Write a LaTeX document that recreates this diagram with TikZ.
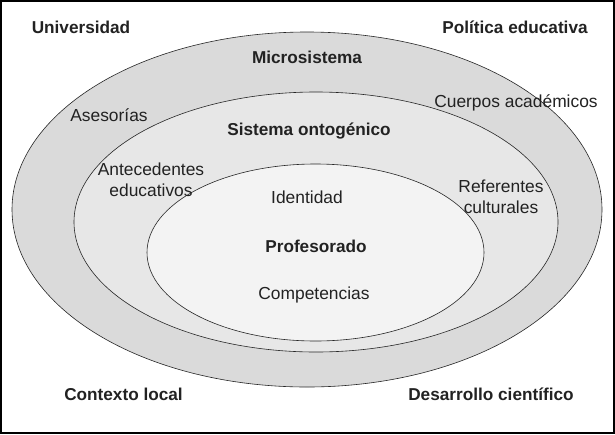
\documentclass[tikz,border=0pt]{standalone}
\usepackage{fontspec}
\setmainfont{Liberation Sans}
\usetikzlibrary{shapes.geometric}
\definecolor{ringA}{gray}{0.855}
\definecolor{ringB}{gray}{0.905}
\definecolor{ringC}{gray}{0.952}
\definecolor{txt}{HTML}{222222}
\tikzset{
  ell/.style={ellipse, draw=black!85, line width=0.6pt, inner sep=0pt},
  lbl/.style={font=\fontsize{17.4}{21}\selectfont, text=txt, align=center, inner sep=0pt},
  blbl/.style={lbl, font=\fontsize{17.2}{21}\selectfont\bfseries},
}
\begin{document}
\begin{tikzpicture}[x=1pt,y=-1pt]
\useasboundingbox (0,0) rectangle (615,434);
\fill[white] (0,0) rectangle (615,434);
\node[ell, fill=ringA, minimum width=590pt, minimum height=355pt] (outer) at (307,209.5) {};
\node[ell, fill=ringB, minimum width=484pt, minimum height=260pt] (middle) at (316,222) {};
\node[ell, fill=ringC, minimum width=337pt, minimum height=177pt] (inner) at (315.5,252.5) {};
\draw[line width=1.6pt] (0.8,0.8) rectangle (614.2,433.2);
\node[blbl] (univ) at (81,27) {Universidad};
\node[blbl] (poli) at (515,27) {Política educativa};
\node[blbl] (micro) at (307,57) {Microsistema};
\node[lbl] (ases) at (109,115) {Asesorías};
\node[lbl] (cuer) at (516,103) {Cuerpos académicos};
\node[blbl] (onto) at (309,131) {Sistema ontogénico};
\node[lbl] (ante) at (151,179.5) {Antecedentes\\educativos};
\node[lbl] (refe) at (501,197) {Referentes\\culturales};
\node[lbl] (iden) at (307,197) {Identidad};
\node[blbl] (prof) at (316,246) {Profesorado};
\node[lbl] (comp) at (314,295) {Competencias};
\node[blbl] (ctx) at (123.5,394) {Contexto local};
\node[blbl] (desa) at (491,394) {Desarrollo científico};
\end{tikzpicture}
\end{document}
